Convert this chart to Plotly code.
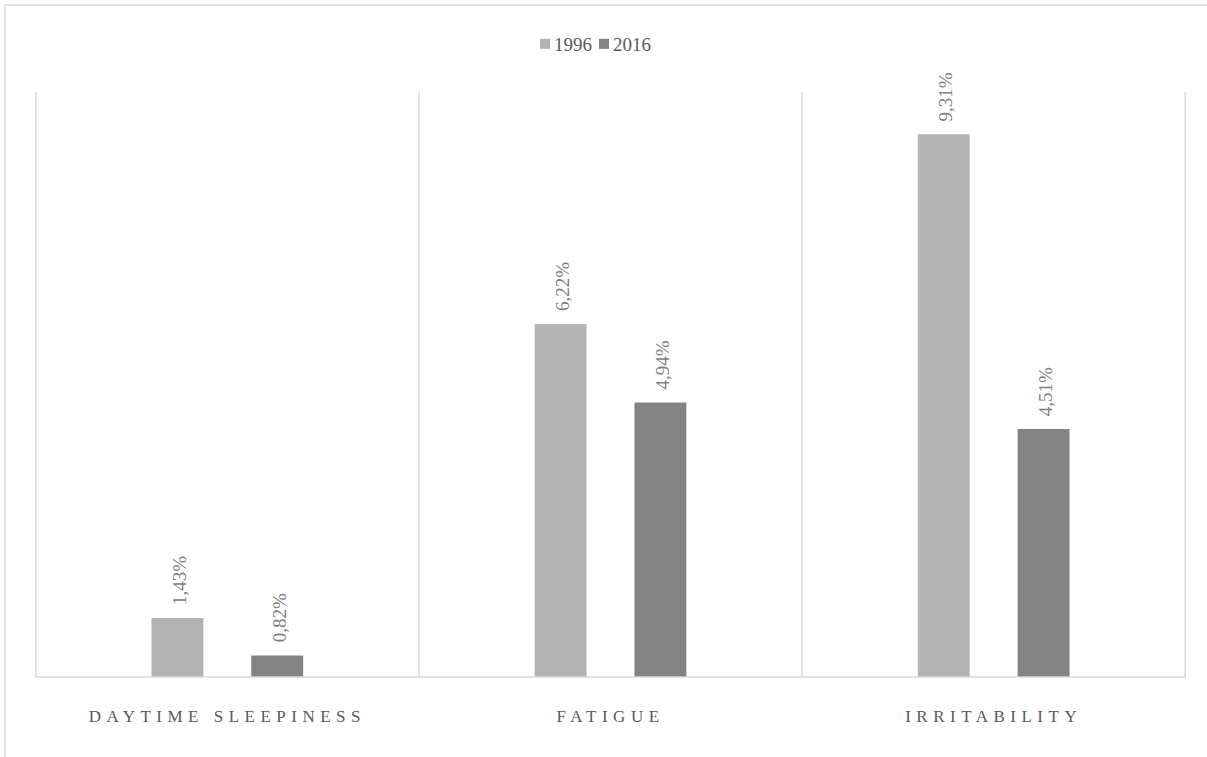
import plotly.graph_objects as go

# Share of respondents reporting each symptom, by survey year
categories = ["DAYTIME SLEEPINESS", "FATIGUE", "IRRITABILITY"]
values_1996 = [1.43, 6.22, 9.31]
values_2016 = [0.82, 4.94, 4.51]
series_names = ["1996", "2016"]


def pct_labels(vals):
    return [f"{v:.2f}%".replace(".", ",") for v in vals]


W, H = 1207, 757
L, R, T, B = 35, 21, 92, 80
pw, ph = W - L - R, H - T - B

SERIF = "Liberation Serif, Times New Roman, serif"
GRID = "#d9d9d9"
BAR_OFFSET = 50  # half the distance between the two bar centres, px

fig = go.Figure()
annotations = []
for k, (name, vals, color) in enumerate([(series_names[0], values_1996, "#b3b3b3"),
                                         (series_names[1], values_2016, "#838383")]):
    fig.add_trace(go.Bar(
        name=name, x=categories, y=vals,
        marker=dict(color=color, line=dict(width=0)),
        hoverinfo="x+y",
    ))
    # rotated value labels above each bar
    for cat, v, lab in zip(categories, vals, pct_labels(vals)):
        annotations.append(dict(
            x=cat, y=v, xref="x", yref="y", text=lab, showarrow=False,
            textangle=-90, xanchor="center", yanchor="bottom",
            xshift=(-BAR_OFFSET if k == 0 else BAR_OFFSET) + 2, yshift=11,
            font=dict(family=SERIF, size=19, color="#808080"),
        ))

shapes = []
# category separators
for xs in [-0.5, 0.5, 1.5, 2.5]:
    shapes.append(dict(type="line", xref="x", yref="paper", x0=xs, x1=xs, y0=0, y1=1,
                       line=dict(color=GRID, width=1.5), layer="below"))
# baseline
shapes.append(dict(type="line", xref="paper", yref="paper", x0=0, x1=1, y0=0, y1=0,
                   line=dict(color=GRID, width=1.5)))
# chart frame
shapes.append(dict(type="rect", xref="paper", yref="paper",
                   x0=(5 - L) / pw, x1=(W + 10 - L) / pw,
                   y0=-(H + 10 - (H - B)) / ph, y1=(H - B - 5) / ph,
                   line=dict(color=GRID, width=1.5), fillcolor="rgba(0,0,0,0)", layer="below"))

fig.update_layout(
    width=W, height=H,
    margin=dict(l=L, r=R, t=T, b=B, pad=0),
    paper_bgcolor="white", plot_bgcolor="white",
    barmode="group", bargap=0.479, bargroupgap=0.48,
    showlegend=True,
    legend=dict(orientation="h", x=(595.5 - L) / pw, xanchor="center",
                y=(H - B - 44) / ph, yanchor="middle",
                font=dict(family=SERIF, size=19, color="#595959"),
                itemwidth=30, traceorder="normal", bgcolor="rgba(0,0,0,0)"),
    font=dict(family=SERIF),
    shapes=shapes,
    annotations=annotations,
    xaxis=dict(showgrid=False, zeroline=False, showline=False,
               ticks="outside", ticklen=24, tickcolor="rgba(0,0,0,0)",
               tickfont=dict(family=SERIF, size=17, color="#595959")),
    yaxis=dict(range=[0.47, 10.0], visible=False, showgrid=False, zeroline=False),
)

# Tighter legend layout and spaced-out category labels
post = """
(function(){
  document.querySelectorAll('.xtick text').forEach(function(t){
    t.style.letterSpacing = '5.5px';
  });
  function getT(g){
    var m = /translate\\(([-\\d.eE]+)[ ,]*([-\\d.eE]+)?\\)/.exec(g.getAttribute('transform') || '');
    return m ? [parseFloat(m[1]), parseFloat(m[2] || 0)] : [0, 0];
  }
  var tr = document.querySelectorAll('.legend .traces');
  if (tr.length !== 2) return;
  tr.forEach(function(g){
    g.querySelectorAll('.legendpoints path').forEach(function(p){
      p.setAttribute('d', 'M5,5H-5V-5H5Z');
    });
    g.querySelector('.legendtext').setAttribute('x', 29);
  });
  var t0 = tr[0].querySelector('.legendtext'), t1 = tr[1].querySelector('.legendtext');
  var p0 = getT(tr[0]), p1 = getT(tr[1]);
  var w0 = t0.getBBox().width;
  var nx1 = p0[0] + 29 + w0 + 7 - 15;
  tr[1].setAttribute('transform', 'translate(' + nx1 + ',' + p1[1] + ')');
  var s0 = tr[0].querySelector('.legendpoints path').getBoundingClientRect();
  var e1 = t1.getBoundingClientRect();
  var dx = 603.5 - (s0.left + e1.right) / 2;
  var lg = document.querySelector('.legend');
  var pl = getT(lg);
  lg.setAttribute('transform', 'translate(' + (pl[0] + dx) + ',' + pl[1] + ')');
})();
"""
fig.write_html("out.html", post_script=post)
